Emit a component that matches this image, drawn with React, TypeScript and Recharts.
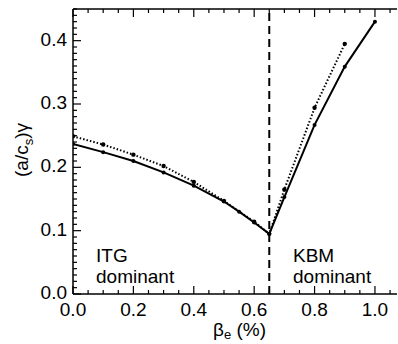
import React from 'react';
import { LineChart, Line, XAxis, YAxis, ReferenceLine, Label } from 'recharts';

// growth rate vs beta_e, two cases (solid and dotted)
const betaSolid = [0, 0.1, 0.2, 0.3, 0.4, 0.5, 0.55, 0.6, 0.65, 0.7, 0.8, 0.9, 1.0];
const gammaSolid = [0.237, 0.224, 0.21, 0.192, 0.171, 0.146, 0.13, 0.113, 0.095, 0.153, 0.267, 0.359, 0.43];
const betaDotted = [0, 0.1, 0.2, 0.3, 0.4, 0.5, 0.6, 0.65, 0.7, 0.8, 0.9];
const gammaDotted = [0.249, 0.236, 0.22, 0.202, 0.177, 0.147, 0.114, 0.095, 0.165, 0.294, 0.395];

const xMajor = [0, 0.2, 0.4, 0.6, 0.8, 1.0];
const yMajor = [0, 0.1, 0.2, 0.3, 0.4];
const transition = 0.65;

const xMinor: number[] = [];
for (let i = 0; i <= 21; i++) xMinor.push(+(i * 0.05).toFixed(2));
const yMinor: number[] = [];
for (let i = 0; i <= 45; i++) yMinor.push(+(i * 0.01).toFixed(2));

const solidData = betaSolid.map((b, i) => ({ beta: b, gamma: gammaSolid[i] }));
const dottedData = betaDotted.map((b, i) => ({ beta: b, gamma: gammaDotted[i] }));

const FONT = '"Liberation Sans", Arial, Helvetica, sans-serif';
const isMajor = (list: number[], v: number) => list.some((m) => Math.abs(m - v) < 1e-6);

const BottomTick = (props: any) => {
  const { x, y, payload } = props;
  const major = isMajor(xMajor, payload.value);
  return (
    <g>
      <line x1={x} x2={x} y1={y} y2={y - (major ? 8 : 4)} stroke="#000" strokeWidth={1.2} />
      {major && (
        <text x={x} y={y + 22} textAnchor="middle" fontSize={19} fontFamily={FONT} fill="#000">
          {payload.value.toFixed(1)}
        </text>
      )}
    </g>
  );
};

const TopTick = (props: any) => {
  const { x, y, payload } = props;
  const major = isMajor(xMajor, payload.value);
  return <line x1={x} x2={x} y1={y} y2={y + (major ? 8 : 4)} stroke="#000" strokeWidth={1.2} />;
};

const LeftTick = (props: any) => {
  const { x, y, payload } = props;
  const major = isMajor(yMajor, payload.value);
  return (
    <g>
      <line x1={x} x2={x + (major ? 8 : 4)} y1={y} y2={y} stroke="#000" strokeWidth={1.2} />
      {major && (
        <text x={x - 6} y={y + 5} textAnchor="end" fontSize={19} fontFamily={FONT} fill="#000">
          {payload.value.toFixed(1)}
        </text>
      )}
    </g>
  );
};

const XTitle = () => (
  <text x={213} y={336} fontSize={19} fontFamily={FONT} fill="#000">
    β<tspan fontSize={13} dy={3}>e</tspan>
    <tspan dy={-3}> (%)</tspan>
  </text>
);

const YTitle = () => (
  <text x={28} y={150} fontSize={19} fontFamily={FONT} fill="#000" textAnchor="middle" transform="rotate(-90 28 150)">
    (a/c<tspan fontSize={13} dy={5}>s</tspan>
    <tspan dy={-5}>)γ</tspan>
  </text>
);

const note: React.CSSProperties = {
  position: 'absolute',
  fontFamily: FONT,
  fontSize: 19,
  lineHeight: '21px',
  color: '#000',
};

export default function App() {
  return (
    <div style={{ position: 'absolute', left: 0, top: 0, width: 398, height: 344, background: '#fff' }}>
      <LineChart width={398} height={344} margin={{ top: 8, right: 1, left: 0, bottom: 0 }}>
        <XAxis
          dataKey="beta"
          type="number"
          domain={[0, 1.073]}
          allowDataOverflow
          ticks={xMinor}
          interval={0}
          tickSize={0}
          tickMargin={0}
          tick={<BottomTick />}
          height={50}
          axisLine={{ stroke: '#000', strokeWidth: 1.5 }}
          tickLine={false}
        >
          <Label content={<XTitle />} />
        </XAxis>
        <XAxis
          xAxisId="top"
          orientation="top"
          dataKey="beta"
          type="number"
          domain={[0, 1.073]}
          allowDataOverflow
          ticks={xMinor}
          interval={0}
          tickSize={0}
          tickMargin={0}
          tick={<TopTick />}
          height={1}
          axisLine={{ stroke: '#000', strokeWidth: 1.5 }}
          tickLine={false}
        />
        <YAxis
          type="number"
          domain={[0, 0.45]}
          allowDataOverflow
          ticks={yMinor}
          interval={0}
          tickSize={0}
          tickMargin={0}
          tick={<LeftTick />}
          width={73}
          axisLine={{ stroke: '#000', strokeWidth: 1.5 }}
          tickLine={false}
        >
          <Label content={<YTitle />} />
        </YAxis>
        <ReferenceLine x={transition} stroke="#000" strokeWidth={2} strokeDasharray="8 5" />
        <Line
          data={dottedData}
          dataKey="gamma"
          type="linear"
          stroke="#000"
          strokeWidth={2}
          strokeDasharray="1.5 2"
          dot={{ r: 2.2, fill: '#000', stroke: 'none', strokeDasharray: '' }}
          isAnimationActive={false}
        />
        <Line
          data={solidData}
          dataKey="gamma"
          type="linear"
          stroke="#000"
          strokeWidth={2}
          dot={{ r: 2, fill: '#000', stroke: 'none' }}
          isAnimationActive={false}
        />
      </LineChart>
      <div style={{ ...note, left: 96, top: 245 }}>ITG<br />dominant</div>
      <div style={{ ...note, left: 293, top: 245 }}>KBM<br />dominant</div>
    </div>
  );
}
